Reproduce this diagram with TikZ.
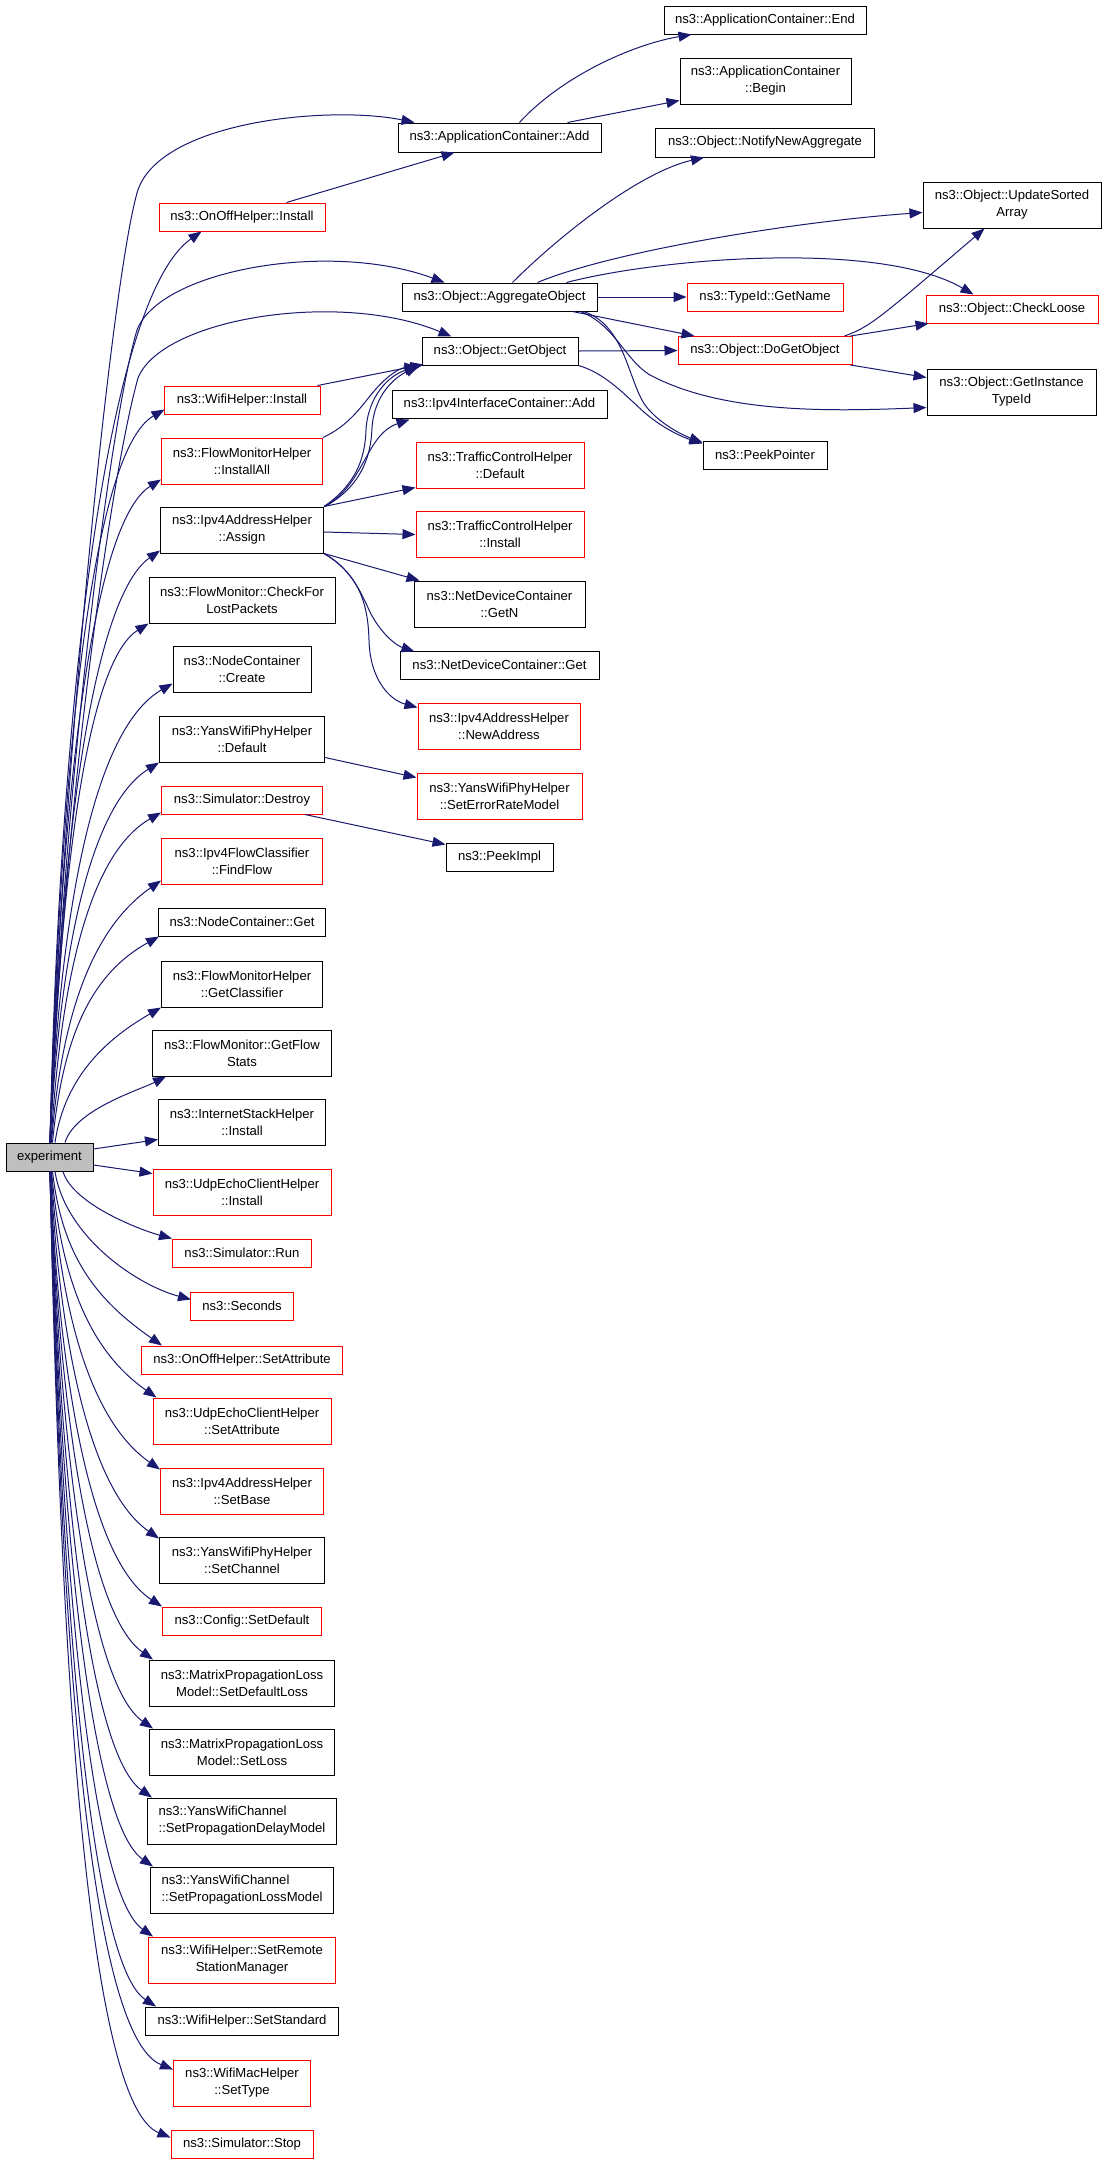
\documentclass[tikz,border=0pt]{standalone}
\usepackage{fontspec}
\setmainfont{Liberation Sans}
\usetikzlibrary{arrows.meta,calc}
\definecolor{edgeblue}{HTML}{191970}
\definecolor{nodered}{HTML}{FF0000}
\definecolor{expgray}{HTML}{BFBFBF}
\tikzset{
  box/.style={draw=black, line width=1pt, inner sep=0pt, align=center,
    font=\fontsize{13.1}{17}\selectfont, anchor=center},
  redbox/.style={box, draw=nodered},
  edge/.style={draw=edgeblue, line width=1pt, -{Triangle[length=13pt,width=10pt]}},
}
% fan edge from experiment: #1 start, #2 end, #3 arrival angle, #4 = 1 (target above) / -1 (below)
\newcommand\fan[4]{%
  \draw[edge] let \p1=(#1), \p2=(#2), \n1={\y2-\y1},
    \n2={min(0.45*abs(\n1),0.75*(\x2-\x1))} in
    (\p1) .. controls ({\x1+10pt},{\y1+0.5*\n1})
              and ({\x2-cos(#3)*\n2},{\y2-(#4)*sin(#3)*\n2}) .. (\p2);}
\begin{document}
\begin{tikzpicture}[x=1pt,y=-1pt]
\useasboundingbox (0,0) rectangle (1107,2164);
\fill[white] (0,0) rectangle (1107,2164);

% ---- left column ----
\node[redbox, minimum width=166pt, minimum height=28pt] (onoffinst) at (242,217) {ns3::OnOffHelper::Install};
\node[redbox, minimum width=156pt, minimum height=28pt] (wifiinst) at (242,400) {ns3::WifiHelper::Install};
\node[redbox, minimum width=161pt, minimum height=46pt] (fminstall) at (242,461) {ns3::FlowMonitorHelper\\::InstallAll};
\node[box, minimum width=163pt, minimum height=46pt] (assign) at (242,530) {ns3::Ipv4AddressHelper\\::Assign};
\node[box, minimum width=186pt, minimum height=46pt] (checklost) at (242,600) {ns3::FlowMonitor::CheckFor\\LostPackets};
\node[box, minimum width=138pt, minimum height=46pt] (nccreate) at (242,669) {ns3::NodeContainer\\::Create};
\node[box, minimum width=165pt, minimum height=46pt] (yansdef) at (242,739) {ns3::YansWifiPhyHelper\\::Default};
\node[redbox, minimum width=161pt, minimum height=28pt] (destroy) at (242,800) {ns3::Simulator::Destroy};
\node[redbox, minimum width=161pt, minimum height=46pt] (findflow) at (242,861) {ns3::Ipv4FlowClassifier\\::FindFlow};
\node[box, minimum width=167pt, minimum height=28pt] (ncget) at (242,922) {ns3::NodeContainer::Get};
\node[box, minimum width=161pt, minimum height=46pt] (getclass) at (242,984) {ns3::FlowMonitorHelper\\::GetClassifier};
\node[box, minimum width=179pt, minimum height=46pt] (getflowstats) at (242,1053) {ns3::FlowMonitor::GetFlow\\Stats};
\node[box, minimum width=167pt, minimum height=46pt] (inetinst) at (242,1122) {ns3::InternetStackHelper\\::Install};
\node[box, fill=expgray, minimum width=87pt, minimum height=28pt] (exp) at (49.5,1157) {experiment};
\node[redbox, minimum width=178pt, minimum height=46pt] (udpinst) at (242,1192) {ns3::UdpEchoClientHelper\\::Install};
\node[redbox, minimum width=139pt, minimum height=28pt] (run) at (242,1253) {ns3::Simulator::Run};
\node[redbox, minimum width=103pt, minimum height=28pt] (seconds) at (242,1306) {ns3::Seconds};
\node[redbox, minimum width=201pt, minimum height=28pt] (onoffattr) at (242,1360) {ns3::OnOffHelper::SetAttribute};
\node[redbox, minimum width=178pt, minimum height=46pt] (udpattr) at (242,1421) {ns3::UdpEchoClientHelper\\::SetAttribute};
\node[redbox, minimum width=163pt, minimum height=46pt] (setbase) at (242,1491) {ns3::Ipv4AddressHelper\\::SetBase};
\node[box, minimum width=165pt, minimum height=46pt] (setchannel) at (242,1560) {ns3::YansWifiPhyHelper\\::SetChannel};
\node[redbox, minimum width=159pt, minimum height=28pt] (setdefault) at (242,1621) {ns3::Config::SetDefault};
\node[box, minimum width=185pt, minimum height=46pt] (setdefloss) at (242,1683) {ns3::MatrixPropagationLoss\\Model::SetDefaultLoss};
\node[box, minimum width=185pt, minimum height=46pt] (setloss) at (242,1752) {ns3::MatrixPropagationLoss\\Model::SetLoss};
\node[box, align=left, minimum width=189pt, minimum height=46pt] (delaymodel) at (242,1821) {ns3::YansWifiChannel\\::SetPropagationDelayModel};
\node[box, align=left, minimum width=183pt, minimum height=46pt] (lossmodel) at (242,1890) {ns3::YansWifiChannel\\::SetPropagationLossModel};
\node[redbox, minimum width=187pt, minimum height=46pt] (remote) at (242,1960) {ns3::WifiHelper::SetRemote\\StationManager};
\node[box, minimum width=193pt, minimum height=28pt] (setstandard) at (242,2021) {ns3::WifiHelper::SetStandard};
\node[redbox, minimum width=137pt, minimum height=46pt] (settype) at (242,2083) {ns3::WifiMacHelper\\::SetType};
\node[redbox, minimum width=142pt, minimum height=28pt] (stop) at (242,2144) {ns3::Simulator::Stop};

% ---- middle column ----
\node[box, minimum width=203pt, minimum height=29pt] (appadd) at (499.5,137.5) {ns3::ApplicationContainer::Add};
\node[box, minimum width=195pt, minimum height=28pt] (aggobj) at (499.5,297) {ns3::Object::AggregateObject};
\node[box, minimum width=156pt, minimum height=28pt] (getobj) at (500,351) {ns3::Object::GetObject};
\node[box, minimum width=215pt, minimum height=28pt] (ipv4icadd) at (499.5,404) {ns3::Ipv4InterfaceContainer::Add};
\node[redbox, minimum width=168pt, minimum height=46pt] (tcdefault) at (500,465) {ns3::TrafficControlHelper\\::Default};
\node[redbox, minimum width=168pt, minimum height=46pt] (tcinstall) at (500,534.5) {ns3::TrafficControlHelper\\::Install};
\node[box, minimum width=171pt, minimum height=46pt] (ndgetn) at (499.5,604) {ns3::NetDeviceContainer\\::GetN};
\node[box, minimum width=199pt, minimum height=28pt] (ndget) at (499.5,665) {ns3::NetDeviceContainer::Get};
\node[redbox, minimum width=162pt, minimum height=46pt] (newaddr) at (499,726) {ns3::Ipv4AddressHelper\\::NewAddress};
\node[redbox, minimum width=165pt, minimum height=46pt] (seterr) at (499.5,796) {ns3::YansWifiPhyHelper\\::SetErrorRateModel};
\node[box, minimum width=107pt, minimum height=28pt] (peekimpl) at (499.5,857) {ns3::PeekImpl};

% ---- third column ----
\node[box, minimum width=202pt, minimum height=28pt] (end) at (765,20) {ns3::ApplicationContainer::End};
\node[box, minimum width=171pt, minimum height=46pt] (begin) at (765.5,81) {ns3::ApplicationContainer\\::Begin};
\node[box, minimum width=219pt, minimum height=29pt] (notify) at (765,142.5) {ns3::Object::NotifyNewAggregate};
\node[redbox, minimum width=156pt, minimum height=28pt] (getname) at (765,297) {ns3::TypeId::GetName};
\node[redbox, minimum width=174pt, minimum height=28pt] (dogetobj) at (765,350.5) {ns3::Object::DoGetObject};
\node[box, minimum width=124pt, minimum height=28pt] (peekptr) at (765,455) {ns3::PeekPointer};

% ---- fourth column ----
\node[box, minimum width=178pt, minimum height=46pt] (updsorted) at (1012,205) {ns3::Object::UpdateSorted\\Array};
\node[redbox, minimum width=172pt, minimum height=28pt] (checkloose) at (1012,309) {ns3::Object::CheckLoose};
\node[box, minimum width=169pt, minimum height=46pt] (getinst) at (1011.5,392) {ns3::Object::GetInstance\\TypeId};

% ---- edges from experiment (long arcs) ----
\draw[edge] ([xshift=0.5pt]exp.north) .. controls (60,800) and (110,290) .. (137,193)
  .. controls (157,121) and (330,105) .. ([xshift=17pt]appadd.north west);
\draw[edge] ([xshift=0.5pt]exp.north) .. controls (62,800) and (110,420) .. (137,330)
  .. controls (160,270) and (330,240) .. ([xshift=43pt]aggobj.north west);
\draw[edge] ([xshift=0.5pt]exp.north) .. controls (64,800) and (112,470) .. (138,378)
  .. controls (162,318) and (340,290) .. ([xshift=30pt]getobj.north west);

% ---- fan edges to left column ----
\fan{[xshift=0.5pt]exp.north}{[xshift=43pt]onoffinst.south west}{35}{1}
\fan{[xshift=0.5pt]exp.north}{[xshift=1pt,yshift=5pt]wifiinst.south west}{30}{1}
\fan{[xshift=0.5pt]exp.north}{[yshift=5pt]fminstall.south west}{32}{1}
\fan{[xshift=0.5pt]exp.north}{[yshift=3pt]assign.south west}{35}{1}
\fan{[xshift=0.5pt]exp.north}{checklost.south west}{32}{1}
\fan{[xshift=0.5pt]exp.north}{[yshift=9pt]nccreate.south west}{30}{1}
\fan{[xshift=0.5pt]exp.north}{yansdef.south west}{32}{1}
\fan{[xshift=1.5pt]exp.north}{[yshift=2pt]destroy.south west}{30}{1}
\fan{[xshift=2pt]exp.north}{[yshift=4pt]findflow.south west}{35}{1}
\fan{[xshift=3pt]exp.north}{[xshift=1pt]ncget.south west}{29}{1}
\fan{[xshift=5.5pt]exp.north}{getclass.south west}{30}{1}
\fan{[xshift=15.5pt]exp.north}{[xshift=14pt]getflowstats.south west}{27}{1}
\draw[edge] ([yshift=8pt]exp.east) -- ([yshift=6pt]inetinst.south west);
\draw[edge] ([yshift=-8pt]exp.east) -- ([yshift=-5pt]udpinst.north west);
\fan{[xshift=13.5pt]exp.south}{run.north west}{15}{-1}
\fan{[xshift=5.5pt]exp.south}{[xshift=1pt,yshift=-8pt]seconds.north west}{15}{-1}
\fan{[xshift=3pt]exp.south}{[xshift=21pt]onoffattr.north west}{35}{-1}
\fan{[xshift=2pt]exp.south}{[xshift=4pt]udpattr.north west}{35}{-1}
\fan{[xshift=1.5pt]exp.south}{[yshift=-2pt]setbase.north west}{35}{-1}
\fan{[xshift=1pt]exp.south}{[yshift=-2pt]setchannel.north west}{35}{-1}
\fan{[xshift=0.5pt]exp.south}{setdefault.north west}{33}{-1}
\fan{[xshift=0.5pt]exp.south}{[xshift=4pt]setdefloss.north west}{35}{-1}
\fan{[xshift=0.5pt]exp.south}{[xshift=4pt]setloss.north west}{35}{-1}
\fan{[xshift=0.5pt]exp.south}{[xshift=5pt]delaymodel.north west}{35}{-1}
\fan{[xshift=0.5pt]exp.south}{[xshift=3pt]lossmodel.north west}{35}{-1}
\fan{[xshift=0.5pt]exp.south}{[xshift=5pt]remote.north west}{35}{-1}
\fan{[xshift=0.5pt]exp.south}{[xshift=11pt]setstandard.north west}{33}{-1}
\fan{[xshift=0.5pt]exp.south}{[yshift=-10pt]settype.north west}{22}{-1}
\fan{[xshift=0.5pt]exp.south}{[yshift=-8pt]stop.north west}{22}{-1}

% ---- other edges ----
\draw[edge] ([xshift=122pt]appadd.north west) .. controls (560,78) and (630,45) .. ([xshift=28pt]end.south west);
\draw[edge] ([xshift=170pt]appadd.north west) -- ([yshift=4pt]begin.south west);
\draw[edge] ([xshift=128pt]onoffinst.north west) -- ([xshift=57pt]appadd.south west);

\draw[edge] ([xshift=111pt]aggobj.north west) .. controls (560,235) and (640,172) .. ([xshift=49pt]notify.south west);
\draw[edge] ([xshift=136pt]aggobj.north west) .. controls (610,252) and (790,222) .. ([yshift=16pt]updsorted.south west);
\draw[edge] ([xshift=165pt]aggobj.north west) .. controls (660,258) and (880,240) .. ([xshift=48pt]checkloose.north west);
\draw[edge] (aggobj.east) -- (getname.west);
\draw[edge] ([xshift=-25pt]aggobj.south east) -- ([xshift=17pt]dogetobj.north west);
\draw[edge] ([xshift=-17pt]aggobj.south east) .. controls (615,325) and (625,360) .. (650,375)
  .. controls (720,412) and (820,412) .. ([yshift=8pt]getinst.south west);
\draw[edge] ([xshift=-14pt]aggobj.south east) .. controls (625,325) and (628,380) .. (645,405)
  .. controls (660,425) and (685,436) .. ([yshift=-2pt]peekptr.north west);

\draw[edge] (getobj.east) -- (dogetobj.west);
\draw[edge] (getobj.south east) .. controls (605,373) and (625,395) .. (645,413)
  .. controls (665,430) and (685,438) .. ([yshift=-3pt]peekptr.north west);

\draw[edge] ([xshift=-8pt]dogetobj.north east) .. controls (870,327) and (880,318) .. ([xshift=62pt]updsorted.south west);
\draw[edge] ([xshift=-2pt]dogetobj.north east) -- ([xshift=3pt]checkloose.south west);
\draw[edge] ([xshift=-2pt]dogetobj.south east) -- ([yshift=-9pt]getinst.north west);

\draw[edge] ([xshift=-3pt]wifiinst.north east) -- ([xshift=2pt,yshift=1pt]getobj.south west);
\draw[edge] (fminstall.north east) .. controls (350,425) and (362,405) .. (375,390)
  .. controls (388,375) and (400,368) .. ([xshift=-4pt,yshift=-1pt]getobj.south west);
\draw[edge] (assign.north east) .. controls (355,485) and (365,460) .. (366,430)
  .. controls (368,395) and (390,375) .. ([xshift=-4pt,yshift=-1pt]getobj.south west);
\draw[edge] ([xshift=1pt]assign.north east) .. controls (360,487) and (371,458) .. (372,428)
  .. controls (374,395) and (395,377) .. ([xshift=-3pt,yshift=-1pt]getobj.south west);
\draw[edge] (assign.north east) .. controls (365,485) and (365,435) .. ([xshift=18pt,yshift=-1pt]ipv4icadd.south west);
\draw[edge] (assign.north east) -- ([yshift=1pt]tcdefault.south west);
\draw[edge] ([yshift=-2pt]assign.east) -- (tcinstall.west);
\draw[edge] (assign.south east) -- ([xshift=6pt]ndgetn.north west);
\draw[edge] (assign.south east) .. controls (350,568) and (360,590) .. (370,612)
  .. controls (380,632) and (395,645) .. ([xshift=15pt,yshift=-1pt]ndget.north west);
\draw[edge] (assign.south east) .. controls (360,575) and (368,605) .. (369,640)
  .. controls (370,680) and (390,700) .. ([yshift=-5pt]newaddr.north west);

\draw[edge] ([yshift=5pt]yansdef.south east) -- ([yshift=-5pt]seterr.north west);
\draw[edge] ([xshift=-18pt]destroy.south east) -- ([yshift=-2pt]peekimpl.north west);
\end{tikzpicture}
\end{document}
